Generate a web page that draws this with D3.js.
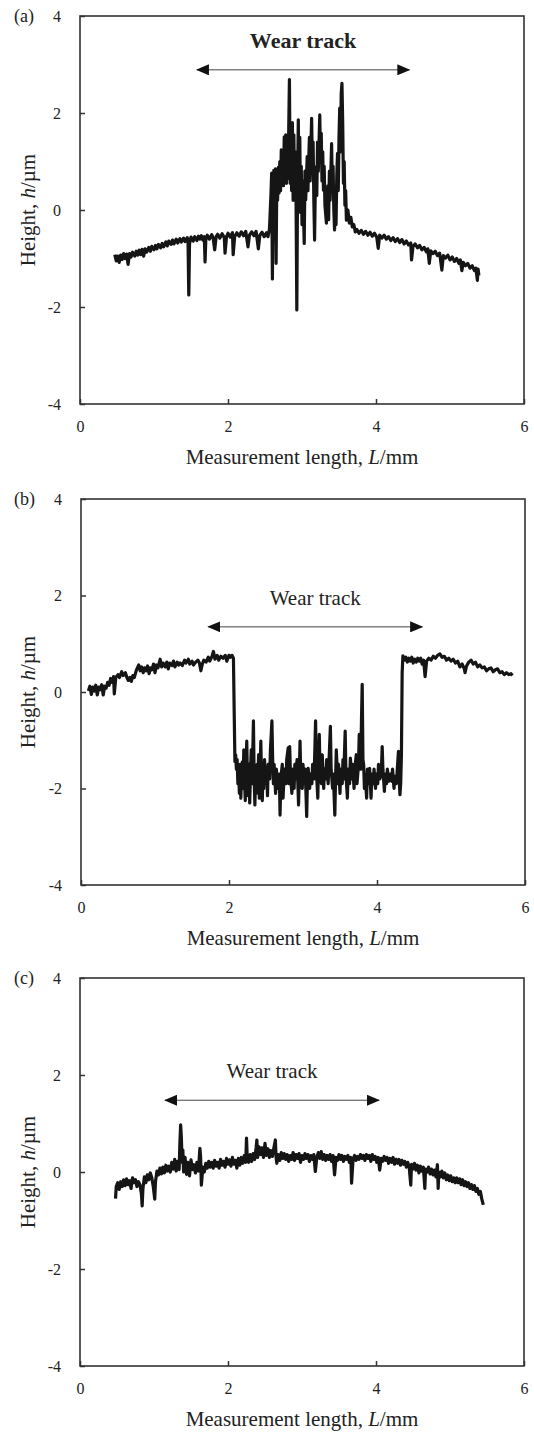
<!DOCTYPE html>
<html>
<head>
<meta charset="utf-8">
<script src="https://cdn.jsdelivr.net/npm/d3@7"></script>
<style>
  body { margin: 0; background: #fff; }
  svg text { font-family: "Liberation Serif", "Times New Roman", serif; fill: #222; }
</style>
</head>
<body>
<svg id="fig" width="534" height="1432"></svg>
<script>
// tick values shared by the three profiles
const ticksX = [0, 2, 4, 6];
const ticksY = [-4, -2, 0, 2, 4];
const panelLabels = ["(a)", "(b)", "(c)"];

// wear track arrows, in mm and um
const trackStart = [1.58, 1.72, 1.15];
const trackEnd = [4.45, 4.61, 4.04];
const trackHeight = [2.89, 1.35, 1.48];

// profiles: [L (mm), h (um)]
const profileA = [
  [0.47,-0.92],[0.49,-1.05],[0.51,-0.95],[0.53,-1.08],[0.55,-0.93],[0.57,-1.02],[0.59,-0.90],[0.61,-1.00],
  [0.63,-0.91],[0.65,-1.12],[0.67,-0.90],[0.69,-0.97],[0.71,-0.87],[0.74,-0.95],[0.76,-0.85],[0.78,-0.93],
  [0.80,-0.83],[0.82,-0.92],[0.84,-0.81],[0.86,-0.95],[0.88,-0.80],[0.90,-0.87],[0.93,-0.77],[0.95,-0.85],
  [0.97,-0.75],[1.00,-0.82],[1.02,-0.73],[1.04,-0.80],[1.06,-0.71],[1.09,-0.78],[1.11,-0.69],[1.13,-0.76],
  [1.16,-0.66],[1.18,-0.74],[1.20,-0.64],[1.23,-0.71],[1.25,-0.62],[1.27,-0.70],[1.30,-0.60],[1.32,-0.68],
  [1.35,-0.59],[1.37,-0.66],[1.40,-0.58],[1.42,-0.65],[1.45,-0.57],[1.46,-0.66],[1.47,-1.75],[1.48,-0.70],
  [1.50,-0.56],[1.53,-0.64],[1.55,-0.55],[1.58,-0.63],[1.60,-0.54],[1.62,-0.60],[1.64,-0.53],[1.66,-0.62],
  [1.68,-0.55],[1.69,-1.07],[1.70,-0.62],[1.72,-0.52],[1.75,-0.60],[1.78,-0.51],[1.80,-0.58],[1.82,-0.82],
  [1.84,-0.55],[1.86,-0.50],[1.89,-0.58],[1.92,-0.49],[1.95,-0.57],[1.96,-0.89],[1.98,-0.55],[2.00,-0.48],
  [2.03,-0.56],[2.06,-0.47],[2.07,-0.92],[2.09,-0.55],[2.12,-0.47],[2.15,-0.54],[2.18,-0.45],[2.21,-0.53],
  [2.24,-0.44],[2.27,-0.76],[2.29,-0.52],[2.32,-0.45],[2.35,-0.53],[2.38,-0.44],[2.41,-0.80],[2.43,-0.52],
  [2.46,-0.46],[2.49,-0.55],[2.52,-0.47],[2.54,-0.55],
  [2.56,-0.40],[2.58,0.30],[2.59,0.76],[2.60,-1.42],[2.61,0.60],[2.62,0.82],[2.63,-0.20],[2.64,0.85],
  [2.65,-1.10],[2.66,0.70],[2.67,0.20],[2.68,0.88],[2.69,0.35],[2.70,1.00],[2.71,0.40],[2.72,1.24],
  [2.73,0.55],[2.74,1.10],[2.75,0.50],[2.76,1.51],[2.77,0.60],[2.78,1.55],[2.79,0.55],[2.80,1.40],
  [2.81,0.65],[2.82,1.58],[2.83,2.69],[2.84,0.55],[2.85,1.70],[2.86,0.40],[2.87,1.80],[2.88,0.20],
  [2.89,1.55],[2.90,0.35],[2.91,1.20],[2.92,0.10],[2.93,-2.06],[2.94,0.50],[2.95,1.86],[2.96,0.30],
  [2.97,1.50],[2.98,-0.05],[2.99,0.90],[3.00,-0.30],[3.01,0.60],[3.03,-0.69],[3.04,0.80],[3.05,0.21],
  [3.07,1.10],[3.08,0.40],[3.10,1.50],[3.11,0.60],[3.13,1.89],[3.14,0.90],[3.15,1.40],[3.16,0.20],
  [3.17,-0.62],[3.18,0.50],[3.19,0.89],[3.20,0.30],[3.21,1.40],[3.22,0.80],[3.24,1.96],[3.25,1.00],
  [3.26,1.58],[3.27,0.60],[3.28,1.20],[3.29,0.41],[3.30,0.90],[3.31,0.10],[3.33,-0.27],[3.34,0.30],
  [3.35,0.50],[3.36,-0.20],[3.37,0.80],[3.38,0.20],[3.40,1.37],[3.41,0.40],[3.42,0.90],[3.43,0.00],
  [3.44,-0.41],[3.45,0.30],[3.46,-0.30],[3.47,0.70],[3.48,1.17],[3.49,0.40],[3.50,1.50],[3.51,2.10],
  [3.52,1.20],[3.53,2.40],[3.54,2.61],[3.55,1.80],[3.56,0.55],[3.57,1.00],[3.58,0.10],[3.59,0.40],
  [3.60,-0.21],[3.62,0.00],[3.64,-0.27],[3.66,-0.15],[3.68,-0.35],[3.70,-0.30],[3.72,-0.45],
  [3.74,-0.40],[3.77,-0.48],[3.80,-0.42],[3.83,-0.50],[3.86,-0.44],[3.89,-0.52],[3.92,-0.46],[3.95,-0.54],
  [3.98,-0.48],[4.01,-0.56],[4.03,-0.79],[4.05,-0.52],[4.08,-0.58],[4.11,-0.52],[4.14,-0.60],[4.17,-0.55],
  [4.20,-0.63],[4.23,-0.57],[4.26,-0.65],[4.29,-0.59],[4.32,-0.67],[4.35,-0.61],[4.38,-0.70],[4.41,-0.64],
  [4.44,-0.72],[4.47,-0.68],[4.48,-1.03],[4.50,-0.75],[4.53,-0.70],[4.56,-0.78],[4.59,-0.73],[4.62,-0.82],
  [4.65,-0.77],[4.68,-0.86],[4.70,-0.80],[4.72,-1.10],[4.74,-0.84],[4.77,-0.90],[4.80,-0.85],[4.83,-0.94],
  [4.86,-0.89],[4.89,-1.24],[4.91,-0.94],[4.94,-0.99],[4.97,-0.93],[5.00,-1.03],[5.03,-0.97],[5.06,-1.06],
  [5.09,-1.00],[5.12,-1.10],[5.14,-1.03],[5.16,-1.25],[5.18,-1.08],[5.21,-1.15],[5.24,-1.10],[5.27,-1.20],
  [5.30,-1.15],[5.33,-1.25],[5.35,-1.20],[5.37,-1.45],[5.38,-1.22],[5.39,-1.35]
];

const profileB = [
  [0.10,0.02],[0.12,0.12],[0.14,-0.05],[0.16,0.10],[0.18,0.02],[0.20,0.14],[0.22,-0.06],[0.24,0.10],
  [0.26,0.05],[0.28,0.15],[0.30,-0.06],[0.32,0.12],[0.34,0.08],[0.36,0.20],[0.38,0.14],[0.40,0.28],
  [0.42,0.20],[0.44,0.32],[0.45,-0.04],[0.47,0.30],[0.50,0.36],[0.52,0.30],[0.55,0.42],[0.57,0.34],
  [0.60,0.40],[0.62,0.30],[0.64,0.24],[0.66,0.30],[0.68,0.22],[0.70,0.34],[0.72,0.30],[0.75,0.46],
  [0.78,0.56],[0.80,0.44],[0.82,0.52],[0.84,0.40],[0.86,0.50],[0.88,0.44],[0.90,0.54],[0.92,0.38],
  [0.94,0.50],[0.96,0.46],[0.98,0.58],[1.00,0.40],[1.02,0.56],[1.04,0.50],[1.07,0.68],[1.09,0.52],
  [1.11,0.60],[1.14,0.52],[1.16,0.62],[1.18,0.48],[1.20,0.60],[1.23,0.55],[1.25,0.64],[1.27,0.52],
  [1.30,0.62],[1.32,0.56],[1.34,0.60],[1.37,0.55],[1.40,0.66],[1.42,0.60],[1.45,0.68],[1.47,0.58],
  [1.50,0.64],[1.52,0.56],[1.55,0.62],[1.58,0.66],[1.60,0.60],[1.62,0.44],[1.64,0.58],[1.66,0.66],
  [1.69,0.62],[1.72,0.72],[1.74,0.64],[1.77,0.74],[1.79,0.84],[1.81,0.68],[1.84,0.76],[1.86,0.66],
  [1.89,0.74],[1.92,0.70],[1.95,0.76],[1.97,0.64],[2.00,0.76],[2.02,0.72],[2.04,0.76],[2.06,0.70],
  [2.07,-0.40],[2.08,-1.44],[2.09,-1.30],[2.10,-1.60],[2.11,-1.40],[2.12,-1.90],[2.13,-1.55],[2.14,-2.10],
  [2.15,-1.50],[2.16,-2.20],[2.17,-1.70],[2.18,-1.45],[2.19,-2.00],[2.20,-1.20],[2.21,-1.80],[2.22,-2.25],
  [2.23,-1.60],[2.24,-1.02],[2.25,-1.90],[2.26,-2.15],[2.27,-1.50],[2.28,-2.30],[2.29,-1.70],[2.30,-1.20],
  [2.31,-1.90],[2.32,-1.40],[2.33,-0.60],[2.34,-1.80],[2.35,-2.34],[2.36,-1.60],[2.37,-2.10],[2.38,-1.50],
  [2.39,-1.90],[2.40,-1.30],[2.41,-2.20],[2.42,-1.70],[2.43,-1.02],[2.44,-1.80],[2.45,-2.25],[2.46,-1.60],
  [2.47,-2.00],[2.48,-1.40],[2.50,-1.90],[2.51,-1.60],[2.52,-2.15],[2.53,-1.50],[2.55,-1.80],[2.56,-1.20],
  [2.58,-0.60],[2.59,-1.40],[2.60,-1.90],[2.61,-1.50],[2.63,-2.10],[2.64,-1.60],[2.66,-2.00],[2.68,-1.70],
  [2.69,-2.55],[2.70,-1.80],[2.72,-1.50],[2.73,-2.20],[2.75,-1.60],[2.77,-1.90],[2.78,-1.40],[2.80,-1.16],
  [2.81,-1.90],[2.82,-1.13],[2.83,-1.70],[2.85,-2.10],[2.86,-1.60],[2.88,-2.00],[2.89,-1.50],[2.90,-1.80],
  [2.92,-1.40],[2.94,-2.34],[2.95,-1.70],[2.96,-1.02],[2.97,-1.80],[2.99,-2.00],[3.00,-1.50],[3.02,-1.90],
  [3.03,-1.60],[3.05,-2.58],[3.06,-1.80],[3.07,-1.58],[3.09,-2.00],[3.10,-1.70],[3.12,-1.90],[3.13,-1.50],
  [3.15,-1.80],[3.17,-0.60],[3.18,-1.60],[3.20,-2.20],[3.21,-1.50],[3.22,-0.88],[3.23,-1.70],[3.25,-1.90],
  [3.26,-1.30],[3.28,-2.00],[3.29,-1.60],[3.31,-1.80],[3.32,-1.40],[3.34,-1.90],[3.35,-1.50],[3.37,-0.71],
  [3.38,-1.60],[3.40,-2.00],[3.41,-1.70],[3.43,-2.55],[3.44,-1.80],[3.45,-1.20],[3.47,-1.90],[3.48,-1.50],
  [3.50,-2.10],[3.51,-1.60],[3.53,-1.90],[3.54,-1.40],[3.55,-1.80],[3.57,-0.81],[3.58,-1.70],[3.60,-2.20],
  [3.61,-1.60],[3.63,-1.90],[3.64,-1.37],[3.66,-1.80],[3.67,-1.50],[3.69,-2.00],[3.70,-1.60],[3.72,-1.30],
  [3.73,-1.90],[3.75,-1.50],[3.76,-0.88],[3.78,-1.60],[3.79,-0.60],[3.80,0.16],[3.81,-1.40],[3.82,-1.51],
  [3.83,-2.00],[3.84,-1.70],[3.86,-2.20],[3.87,-1.60],[3.89,-1.90],[3.90,-1.58],[3.92,-2.20],[3.93,-1.70],
  [3.95,-1.90],[3.96,-1.60],[3.98,-2.00],[3.99,-1.70],[4.01,-1.90],[4.02,-1.50],[4.04,-1.80],[4.06,-1.60],
  [4.07,-1.13],[4.08,-1.60],[4.10,-2.06],[4.11,-1.70],[4.13,-1.90],[4.14,-1.60],[4.16,-1.85],[4.18,-1.70],
  [4.20,-1.85],[4.21,-1.60],[4.23,-2.00],[4.24,-1.75],[4.26,-1.90],[4.27,-1.70],[4.29,-1.23],[4.30,-1.80],
  [4.31,-2.13],[4.32,-1.90],[4.33,-1.30],
  [4.34,0.40],[4.35,0.75],[4.37,0.66],[4.39,0.72],[4.41,0.62],[4.43,0.70],[4.45,0.64],[4.47,0.72],
  [4.49,0.60],[4.51,0.68],[4.53,0.62],[4.55,0.70],[4.57,0.64],[4.59,0.70],[4.61,0.58],[4.63,0.66],
  [4.65,0.32],[4.67,0.64],[4.70,0.70],[4.73,0.66],[4.76,0.74],[4.79,0.70],[4.82,0.76],[4.85,0.79],
  [4.88,0.72],[4.91,0.74],[4.94,0.66],[4.97,0.70],[5.00,0.64],[5.03,0.68],[5.06,0.60],[5.09,0.64],
  [5.12,0.52],[5.15,0.58],[5.18,0.48],[5.19,0.40],[5.21,0.54],[5.24,0.62],[5.27,0.66],[5.30,0.58],
  [5.33,0.62],[5.36,0.52],[5.39,0.56],[5.42,0.50],[5.45,0.52],[5.48,0.44],[5.51,0.48],[5.54,0.50],
  [5.57,0.42],[5.60,0.46],[5.63,0.48],[5.66,0.40],[5.69,0.42],[5.72,0.36],[5.75,0.40],[5.78,0.36],
  [5.81,0.38],[5.83,0.34]
];

const profileC = [
  [0.48,-0.55],[0.49,-0.30],[0.51,-0.22],[0.53,-0.36],[0.55,-0.20],[0.57,-0.30],[0.59,-0.16],[0.61,-0.28],
  [0.63,-0.14],[0.65,-0.26],[0.67,-0.18],[0.69,-0.34],[0.71,-0.12],[0.73,-0.22],[0.75,-0.16],[0.77,-0.30],
  [0.79,-0.20],[0.81,-0.26],[0.83,-0.45],[0.84,-0.70],[0.85,-0.35],[0.87,-0.10],[0.89,-0.22],[0.91,-0.06],
  [0.93,-0.16],[0.95,-0.02],[0.97,-0.12],[0.99,-0.30],[1.01,-0.56],[1.02,-0.20],[1.04,0.02],[1.06,-0.06],
  [1.08,0.08],[1.10,-0.04],[1.12,0.10],[1.14,-0.02],[1.16,0.14],[1.18,0.02],[1.20,0.12],[1.22,0.00],
  [1.24,0.20],[1.26,0.06],[1.28,0.26],[1.30,0.02],[1.32,0.22],[1.34,0.05],[1.35,0.60],[1.36,0.97],
  [1.37,0.70],[1.38,0.20],[1.39,0.45],[1.40,0.00],[1.42,0.30],[1.44,-0.05],[1.46,0.20],[1.48,-0.08],
  [1.50,0.25],[1.52,0.05],[1.54,0.15],[1.56,-0.02],[1.58,0.20],[1.60,0.02],[1.62,0.49],[1.63,0.30],
  [1.64,-0.27],[1.66,0.10],[1.68,0.00],[1.70,0.18],[1.72,0.08],[1.74,0.22],[1.76,0.10],[1.78,0.20],
  [1.80,0.08],[1.82,0.24],[1.84,0.12],[1.86,0.20],[1.88,0.08],[1.90,0.26],[1.92,0.14],[1.94,0.22],
  [1.96,0.10],[1.98,0.28],[2.00,0.16],[2.02,0.25],[2.04,0.12],[2.06,0.30],[2.08,0.16],[2.10,0.24],
  [2.12,0.08],[2.14,0.28],[2.16,0.14],[2.18,0.30],[2.20,0.18],[2.22,0.34],[2.24,0.20],[2.25,0.70],
  [2.26,0.30],[2.28,0.20],[2.30,0.36],[2.32,0.22],[2.34,0.38],[2.36,0.26],[2.38,0.50],[2.39,0.66],
  [2.40,0.30],[2.42,0.52],[2.44,0.36],[2.46,0.50],[2.48,0.30],[2.50,0.59],[2.52,0.34],[2.54,0.48],
  [2.56,0.30],[2.58,0.44],[2.60,0.32],[2.62,0.50],[2.64,0.66],[2.65,0.30],[2.66,0.18],[2.68,0.36],
  [2.70,0.24],[2.72,0.40],[2.74,0.28],[2.76,0.38],[2.78,0.26],[2.80,0.36],[2.82,0.22],[2.84,0.34],
  [2.86,0.26],[2.88,0.40],[2.90,0.24],[2.92,0.36],[2.94,0.28],[2.96,0.38],[2.98,0.20],[3.00,0.34],
  [3.02,0.26],[3.04,0.38],[3.06,0.28],[3.08,0.36],[3.10,0.22],[3.12,0.34],[3.14,0.26],[3.16,0.36],
  [3.18,0.01],[3.20,0.30],[3.22,0.40],[3.24,0.28],[3.26,0.42],[3.28,0.26],[3.30,0.36],[3.32,0.24],
  [3.34,0.34],[3.36,0.26],[3.38,0.36],[3.40,0.22],[3.42,0.34],[3.44,-0.06],[3.46,0.30],[3.48,0.24],
  [3.50,0.36],[3.52,0.26],[3.54,0.34],[3.56,0.22],[3.58,0.32],[3.60,0.26],[3.62,0.34],[3.64,0.20],
  [3.66,0.30],[3.67,-0.23],[3.69,0.26],[3.71,0.34],[3.73,0.24],[3.75,0.32],[3.77,0.26],[3.79,0.36],
  [3.81,0.28],[3.83,0.34],[3.85,0.24],[3.87,0.36],[3.89,0.28],[3.91,0.34],[3.93,0.22],[3.95,0.36],
  [3.97,0.26],[3.99,0.32],[4.01,0.20],[4.03,0.30],[4.05,0.04],[4.07,0.28],[4.09,0.22],[4.11,0.32],
  [4.13,0.24],[4.15,0.30],[4.17,0.18],[4.19,0.28],[4.21,0.20],[4.23,0.30],[4.25,0.16],[4.27,0.26],
  [4.29,0.18],[4.31,0.26],[4.33,0.14],[4.35,0.24],[4.37,0.16],[4.39,0.22],[4.41,0.10],[4.43,0.20],
  [4.45,0.08],[4.47,-0.27],[4.48,0.16],[4.50,0.06],[4.52,0.18],[4.54,0.04],[4.56,0.14],[4.58,-0.02],
  [4.60,0.12],[4.62,0.02],[4.64,0.10],[4.66,-0.34],[4.67,0.06],[4.69,0.00],[4.71,0.10],[4.73,-0.04],
  [4.75,0.06],[4.77,-0.06],[4.79,0.04],[4.81,-0.10],[4.83,0.15],[4.84,-0.34],[4.85,0.00],[4.87,-0.10],
  [4.89,0.02],[4.91,-0.12],[4.93,-0.02],[4.95,-0.16],[4.97,-0.06],[4.99,-0.18],[5.01,-0.08],[5.03,-0.20],
  [5.05,-0.12],[5.07,-0.22],[5.09,-0.12],[5.11,-0.22],[5.13,-0.14],[5.15,-0.26],[5.17,-0.16],[5.19,-0.28],
  [5.21,-0.20],[5.23,-0.30],[5.25,-0.22],[5.27,-0.34],[5.29,-0.26],[5.31,-0.36],[5.33,-0.28],[5.35,-0.40],
  [5.37,-0.34],[5.39,-0.46],[5.41,-0.40],[5.43,-0.56],[5.45,-0.68]
];

const profiles = [profileA, profileB, profileC];

// frame of each panel in page pixels
const frames = [
  { left: 80, right: 524, top: 16, bottom: 404, boldNote: true },
  { left: 81, right: 525, top: 499, bottom: 885, boldNote: false },
  { left: 80, right: 524, top: 978, bottom: 1366, boldNote: false }
];

const svg = d3.select("#fig");

svg.append("defs").append("marker")
    .attr("id", "head")
    .attr("markerUnits", "userSpaceOnUse")
    .attr("markerWidth", 13).attr("markerHeight", 11)
    .attr("refX", 12).attr("refY", 5.5)
    .attr("orient", "auto-start-reverse")
  .append("path")
    .attr("d", "M0,0L13,5.5L0,11Z")
    .attr("fill", "#111");

frames.forEach((f, i) => {
    var x = d3.scaleLinear().domain([0, 6]).range([f.left, f.right]);
    var y = d3.scaleLinear().domain([-4, 4]).range([f.bottom, f.top]);
    var g = svg.append("g");

    // bottom axis, ticks point into the plot
    var ax = g.append("g")
        .attr("transform", `translate(0,${f.bottom})`)
        .call(d3.axisBottom(x).tickValues(ticksX).tickSizeInner(-5).tickSizeOuter(0)
            .tickPadding(17).tickFormat(d => String(d)));
    var ay = g.append("g")
        .attr("transform", `translate(${f.left},0)`)
        .call(d3.axisLeft(y).tickValues(ticksY).tickSizeInner(-5).tickSizeOuter(0)
            .tickPadding(19).tickFormat(d => String(d)));
    [ax, ay].forEach(a => {
        a.select(".domain").remove();
        a.selectAll(".tick line").attr("stroke", "#333").attr("stroke-width", 1.5);
        a.selectAll("text").attr("font-family", null).attr("font-size", 16).attr("fill", "#222");
    });

    g.append("rect")
        .attr("x", f.left).attr("y", f.top)
        .attr("width", f.right - f.left).attr("height", f.bottom - f.top)
        .attr("fill", "none").attr("stroke", "#333").attr("stroke-width", 1.6);

    g.append("path")
        .datum(profiles[i])
        .attr("d", d3.line().x(d => x(d[0])).y(d => y(d[1])))
        .attr("fill", "none")
        .attr("stroke", "#151515")
        .attr("stroke-width", 3.2)
        .attr("stroke-linejoin", "round");

    // wear track arrow and note
    var ty = y(trackHeight[i]);
    g.append("line")
        .attr("x1", x(trackStart[i])).attr("x2", x(trackEnd[i]))
        .attr("y1", ty).attr("y2", ty)
        .attr("stroke", "#444").attr("stroke-width", 1)
        .attr("marker-start", "url(#head)").attr("marker-end", "url(#head)");
    g.append("text")
        .attr("x", (x(trackStart[i]) + x(trackEnd[i])) / 2)
        .attr("y", ty - 22)
        .attr("text-anchor", "middle")
        .attr("font-size", f.boldNote ? 22 : 21)
        .attr("font-weight", f.boldNote ? "bold" : null)
        .text("Wear track");

    g.append("text")
        .attr("x", 14).attr("y", f.top + 6)
        .attr("font-size", 18)
        .text(panelLabels[i]);

    var xt = g.append("text")
        .attr("x", (f.left + f.right) / 2)
        .attr("y", f.bottom + 60)
        .attr("text-anchor", "middle")
        .attr("font-size", 21);
    xt.append("tspan").text("Measurement length, ");
    xt.append("tspan").attr("font-style", "italic").text("L");
    xt.append("tspan").text("/mm");

    var yt = g.append("text")
        .attr("transform", `translate(35,${y(0)}) rotate(-90)`)
        .attr("text-anchor", "middle")
        .attr("font-size", 21);
    yt.append("tspan").text("Height, ");
    yt.append("tspan").attr("font-style", "italic").text("h");
    yt.append("tspan").text("/\u00b5m");
});
</script>
</body>
</html>
